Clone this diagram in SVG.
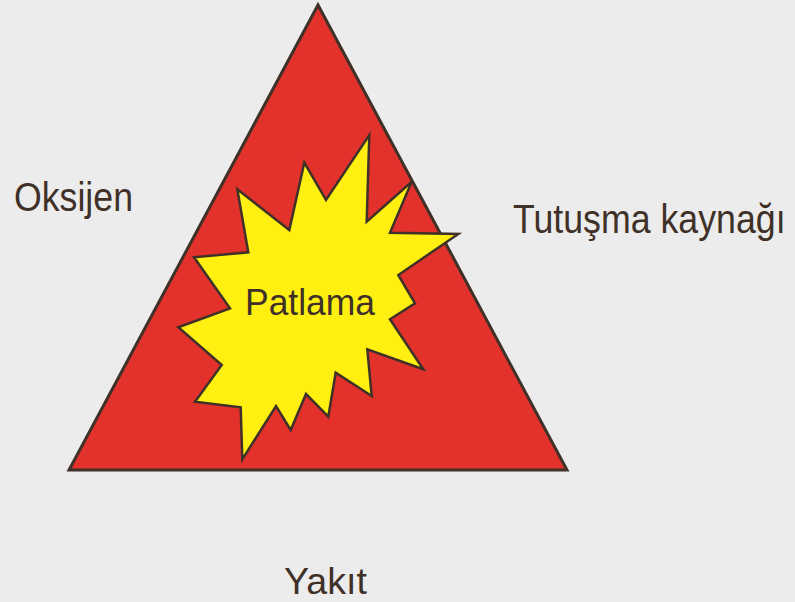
<svg xmlns="http://www.w3.org/2000/svg" width="795" height="602" viewBox="0 0 795 602">
<style>
.lbl{font-family:"Liberation Sans",Arial,sans-serif;fill:#3f3128}
</style>
<rect width="795" height="602" fill="#ececec"/>
<g id="triangle">
<polygon points="318,5 69,470 567,470" fill="#e2322b" stroke="#3f3128" stroke-width="3" stroke-linejoin="miter"/>
</g>
<g id="explosion">
<polygon points="369.3,135 366.7,221.7 411.7,181.7 390,232.7 458.3,234 398.3,275 415,303.3 390,319.3 423.3,369.3 367.3,349.3 371.7,396 335.7,372.7 328.3,416.7 306,394 290.7,430 276,406 242.3,459.3 240.7,407.3 195,401.7 221.7,365 178.3,327.3 230,308.3 194,257.3 248.3,252.3 237.3,189.3 289.3,230 304.3,162.7 326,200" fill="#fff012" stroke="#3f3128" stroke-width="2.5" stroke-linejoin="miter"/>
<text class="lbl" x="245" y="315" font-size="37" textLength="130" lengthAdjust="spacingAndGlyphs">Patlama</text>
</g>
<g id="oksijen"><text class="lbl" x="14" y="211" font-size="41" textLength="119" lengthAdjust="spacingAndGlyphs">Oksijen</text></g>
<g id="tutusma"><text class="lbl" transform="translate(513,233) scale(0.893,1)" x="0" y="0" font-size="40">Tutuşma kaynağı</text></g>
<g id="yakit"><text class="lbl" x="284" y="594" font-size="37" textLength="83" lengthAdjust="spacingAndGlyphs">Yakıt</text></g>
<g id="connectors"/>
</svg>
